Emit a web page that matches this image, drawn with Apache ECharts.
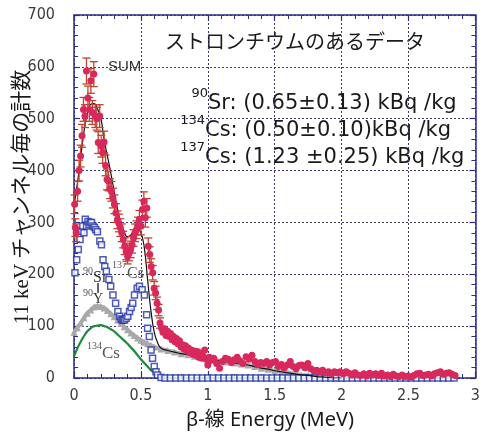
<!DOCTYPE html>
<html>
<head>
<meta charset="utf-8">
<script src="https://cdn.jsdelivr.net/npm/echarts@6/dist/echarts.min.js"></script>
<style>
html,body{margin:0;padding:0;background:#fff;}
#chart{width:483px;height:434px;}
</style>
</head>
<body>
<div id="chart"></div>
<script>
// ---- data ----
const xTickLabels = ['0', '0.5', '1', '1.5', '2', '2.5', '3'];
const yTickLabels = ['0', '100', '200', '300', '400', '500', '600', '700'];

// measured spectrum (with error bars) – low energy part
const measLowE = [0.005,0.010,0.016,0.027,0.038,0.049,0.060,0.071,0.082,0.093,0.104,0.115,0.126,0.137,0.148,0.159,0.170,0.181,0.192,0.203,0.214,0.225,0.236,0.247,0.258,0.269,0.280,0.291,0.302,0.313,0.324,0.335,0.346,0.357,0.368,0.379,0.390,0.401,0.412,0.423,0.434,0.445,0.456,0.467,0.478,0.489,0.500,0.511,0.522,0.533,0.544,0.555,0.566,0.577,0.588,0.599,0.610,0.621,0.632,0.643];
const measLowCounts = [335,290,280,360,400,428,467,518,505,592,540,518,573,512,586,505,500,454,505,447,435,455,410,383,380,365,360,347,335,318,305,299,290,280,267,254,244,235,241,248,257,270,280,286,293,306,293,325,341,309,328,254,238,215,203,173,164,144,131,106];
const measLowErr = [18,17,17,19,20,21,22,23,22,25,23,23,24,23,24,22,22,21,22,21,21,21,20,20,19,19,19,19,18,18,17,17,17,17,16,16,16,15,15,16,16,16,17,17,17,17,17,18,18,18,18,16,15,15,14,13,13,12,11,10];

// measured spectrum – high energy tail
const measHighE = [0.655,0.665,0.677,0.688,0.700,0.711,0.722,0.733,0.744,0.755,0.766,0.777,0.788,0.800,0.811,0.822,0.833,0.844,0.855,0.866,0.877,0.888,0.900,0.911,0.922,0.933,0.944,0.955,0.966,0.977,0.988,1.000,1.011,1.022,1.044,1.066,1.088,1.110,1.132,1.154,1.176,1.198,1.220,1.242,1.264,1.286,1.308,1.330,1.352,1.374,1.396,1.418,1.440,1.462,1.484,1.506,1.528,1.550,1.572,1.594,1.616,1.638,1.660,1.682,1.704,1.726,1.748,1.770,1.792,1.814,1.836,1.858,1.880,1.902,1.924,1.946,1.968,1.990,2.012,2.034,2.056,2.078,2.100,2.122,2.144,2.166,2.188,2.210,2.232,2.254,2.276,2.298,2.320,2.342,2.364,2.386,2.408,2.430,2.452,2.474,2.496,2.518,2.540,2.562,2.584,2.606,2.628,2.650,2.672,2.694,2.716,2.738,2.760,2.782,2.804,2.826,2.848];
const measHighCounts = [96,88,95,82,90,80,86,74,80,70,76,66,72,60,64,56,62,52,58,50,54,46,52,44,51,40,48,38,42,54,36,25,40,34,38,28,19,32,38,36,30,35,40,33,28,41,36,44,32,26,30,28,32,25,30,32,22,26,20,25,32,22,18,24,25,20,28,18,14,15,12,15,10,12,8,12,10,12,8,12,9,6,10,6,5,8,4,9,6,8,5,9,4,6,3,7,4,3,6,3,4,2,5,8,9,5,6,7,4,8,10,12,7,9,10,7,5];

// SUM fit
const sumE = [0,0.025,0.05,0.075,0.1,0.125,0.15,0.175,0.2,0.225,0.25,0.275,0.3,0.325,0.35,0.375,0.4,0.425,0.45,0.475,0.5,0.525,0.55,0.575,0.6,0.625,0.65,0.7,0.75,0.8,0.85,0.9,0.95,1.0,1.05,1.1,1.15,1.2,1.25,1.3,1.35,1.4,1.45,1.5,1.55,1.6,1.65,1.7,1.75,1.8,1.85,1.9,1.95,2.0];
const sumCounts = [331,375,425,476,511,528,529,519,502,459,428,395,360,326,300,282,272,276,285,287,280,252,190,130,88,68,58,53,50,47,45,42,40,37,35,33,31,29,27,25,22,19,17,14,12,10,8,6,5,3,2,1,0,0];

// 137Cs component (open squares)
const cs137E = [0.007,0.020,0.032,0.045,0.057,0.066,0.074,0.084,0.094,0.104,0.113,0.122,0.131,0.143,0.153,0.163,0.175,0.193,0.205,0.217,0.230,0.242,0.261,0.274,0.291,0.311,0.328,0.341,0.352,0.361,0.370,0.378,0.390,0.402,0.415,0.427,0.439,0.452,0.472,0.489,0.509,0.526,0.543,0.550,0.563,0.576,0.587,0.600,0.613,0.624,0.650,0.68,0.72,0.76,0.80,0.84,0.88,0.92,0.96,1.00,1.04,1.08,1.12,1.16,1.20,1.24,1.28,1.32,1.36,1.40,1.44,1.48,1.52,1.56,1.60,1.64,1.68,1.72,1.76,1.80,1.84,1.88,1.92,1.96,2.00,2.04,2.08,2.12,2.16,2.20,2.24,2.28,2.32,2.36,2.40,2.44,2.48,2.52,2.56,2.60,2.64,2.68,2.72,2.76,2.80,2.84];
const cs137Counts = [203,228,248,267,283,293,280,306,293,302,296,300,300,293,290,286,282,264,257,228,215,206,190,177,160,144,128,119,114,112,112,112,115,119,128,136,144,160,173,177,170,160,122,96,80,54,38,22,12,6,1,0,0,0,0,0,0,0,0,0,0,0,0,0,0,0,0,0,0,0,0,0,0,0,0,0,0,0,0,0,0,0,0,0,0,0,0,0,0,0,0,0,0,0,0,0,0,0,0,0,0,0,0,0,0,0];

// 90Sr + 90Y component (grey triangles)
const srE = [0,0.025,0.05,0.075,0.1,0.125,0.15,0.175,0.2,0.225,0.25,0.275,0.3,0.325,0.35,0.375,0.4,0.425,0.45,0.475,0.5,0.525,0.55,0.575,0.6,0.65,0.7,0.75,0.8,0.85,0.9,0.95,1.0,1.05,1.1,1.15,1.2,1.25,1.3,1.35,1.4,1.45,1.5,1.55,1.6,1.65,1.7,1.75,1.8,1.85,1.9,1.95,2.0];
const srCounts = [88,97,106,116,125,131,137,139,138,135,130,124,118,112,105,99,93,87,82,77,73,69,66,63,60,56,53,50,47,45,42,40,37,35,33,31,29,27,25,22,19,17,14,12,10,8,6,5,3,2,1,0,0];

// 134Cs component (green line)
const cs134E = [0,0.025,0.05,0.075,0.1,0.125,0.15,0.175,0.2,0.225,0.25,0.275,0.3,0.325,0.35,0.375,0.4,0.425,0.45,0.475,0.5,0.525,0.55,0.575,0.6,0.625,0.65,0.7,2.85];
const cs134Counts = [42,57,70,81,90,96,100,101,102,100,98,94,90,84,78,72,66,59,52,44,36,29,22,15,10,6,3,0,0];

// ---- build ----
const zip = (a, b) => a.map((v, i) => [v, b[i]]);
const measLow = zip(measLowE, measLowCounts);
const measHigh = zip(measHighE, measHighCounts);
const errData = measLowE.map((e, i) => [e, measLowCounts[i], measLowErr[i]]);

const axisColor = '#2b2d86';
const gridColor = '#3a3a6a';
const tickFont = "'Liberation Sans Narrow','DejaVu Sans Condensed','Liberation Sans',sans-serif";
const annFont = "21px 'DejaVu Sans'";
const supFont = "13px 'DejaVu Sans'";

const chart = echarts.init(document.getElementById('chart'), null, {renderer: 'canvas'});

const baseX = {
  type: 'value', min: 0, max: 3, interval: 0.5,
  axisLine: {show: true, onZero: false, lineStyle: {color: axisColor, width: 1.5}},
  axisTick: {show: true, inside: true, length: 6, lineStyle: {color: axisColor, width: 1.2}},
  minorTick: {show: true, splitNumber: 5, length: 4, lineStyle: {color: axisColor, width: 1}},
};
const baseY = {
  type: 'value', min: 0, max: 700, interval: 100,
  axisLine: {show: true, onZero: false, lineStyle: {color: axisColor, width: 1.5}},
  axisTick: {show: true, inside: true, length: 6, lineStyle: {color: axisColor, width: 1.2}},
  minorTick: {show: true, splitNumber: 5, length: 4, lineStyle: {color: axisColor, width: 1}},
};

const option = {
  animation: false,
  backgroundColor: '#fff',
  grid: {left: 74, right: 5, top: 15, bottom: 56},
  xAxis: [
    Object.assign({}, baseX, {
      position: 'bottom',
      splitLine: {show: true, lineStyle: {color: gridColor, type: [2, 2], width: 1}},
      axisLabel: {
        show: true, margin: 10, fontSize: 16, color: '#3a3a3a', fontFamily: tickFont,
        formatter: (v) => xTickLabels[Math.round(v / 0.5)]
      }
    }),
    Object.assign({}, baseX, {
      position: 'top',
      splitLine: {show: false},
      axisLabel: {show: false}
    })
  ],
  yAxis: [
    Object.assign({}, baseY, {
      position: 'left',
      splitLine: {show: true, lineStyle: {color: gridColor, type: [2, 2], width: 1}},
      axisLabel: {
        show: true, margin: 19, fontSize: 16, color: '#3a3a3a', fontFamily: tickFont,
        formatter: (v) => yTickLabels[Math.round(v / 100)]
      }
    }),
    Object.assign({}, baseY, {
      position: 'right',
      splitLine: {show: false},
      axisLabel: {show: false}
    })
  ],
  series: [
    {
      name: '134Cs', type: 'line', data: zip(cs134E, cs134Counts),
      showSymbol: false, smooth: true, z: 2,
      lineStyle: {color: '#1d8a3c', width: 2.2}
    },
    {
      name: '90Sr+90Y', type: 'line', data: zip(srE, srCounts),
      symbol: 'triangle', symbolSize: 7, smooth: true, z: 3,
      itemStyle: {color: '#a9a9a9'},
      lineStyle: {color: '#a9a9a9', width: 4}
    },
    {
      name: '137Cs', type: 'scatter', data: zip(cs137E, cs137Counts),
      symbol: 'rect', symbolSize: 6, z: 4,
      itemStyle: {color: '#ffffff', borderColor: '#2233a6', borderWidth: 1.5}
    },
    {
      name: 'SUM', type: 'line', data: zip(sumE, sumCounts),
      showSymbol: false, smooth: true, z: 5,
      lineStyle: {color: '#111111', width: 1.2}
    },
    {
      name: 'err', type: 'custom', data: errData, z: 6,
      renderItem: function (params, api) {
        const x = api.value(0), y = api.value(1), e = api.value(2);
        const top = api.coord([x, y + e]);
        const bot = api.coord([x, y - e]);
        const w = 4;
        const st = {stroke: '#c0442e', lineWidth: 1.3};
        return {
          type: 'group',
          children: [
            {type: 'line', shape: {x1: top[0], y1: top[1], x2: bot[0], y2: bot[1]}, style: st},
            {type: 'line', shape: {x1: top[0] - w, y1: top[1], x2: top[0] + w, y2: top[1]}, style: st},
            {type: 'line', shape: {x1: bot[0] - w, y1: bot[1], x2: bot[0] + w, y2: bot[1]}, style: st}
          ]
        };
      }
    },
    {
      name: 'meas', type: 'scatter', data: measLow, z: 7,
      symbol: 'circle', symbolSize: 7,
      itemStyle: {color: '#d8285c', opacity: 1}
    },
    {
      name: 'meas2', type: 'scatter', data: measHigh, z: 7,
      symbol: 'circle', symbolSize: 7,
      itemStyle: {color: '#d8285c', opacity: 1}
    }
  ],
  graphic: [
    {type: 'text', x: 165, y: 41, style: {text: 'ストロンチウムのあるデータ', font: "20px 'Noto Sans CJK JP'", fill: '#1a1a1a', verticalAlign: 'middle'}},
    // activity annotations
    {type: 'text', x: 208, y: 94, style: {text: '90', font: supFont, fill: '#1a1a1a', align: 'right', verticalAlign: 'middle'}},
    {type: 'text', x: 208, y: 104, style: {text: 'Sr: (0.65±0.13) kBq /kg', font: annFont, fill: '#1a1a1a', verticalAlign: 'middle'}},
    {type: 'text', x: 205, y: 121, style: {text: '134', font: supFont, fill: '#1a1a1a', align: 'right', verticalAlign: 'middle'}},
    {type: 'text', x: 205, y: 131, style: {text: 'Cs: (0.50±0.10)kBq /kg', font: annFont, fill: '#1a1a1a', verticalAlign: 'middle'}},
    {type: 'text', x: 205, y: 148, style: {text: '137', font: supFont, fill: '#1a1a1a', align: 'right', verticalAlign: 'middle'}},
    {type: 'text', x: 205, y: 158, style: {text: 'Cs: (1.23 ±0.25) kBq /kg', font: annFont, fill: '#1a1a1a', verticalAlign: 'middle'}},
    // curve labels
    {type: 'text', x: 108, y: 67, style: {text: 'SUM', font: "15px 'Liberation Sans'", fill: '#333', verticalAlign: 'middle'}},
    {type: 'text', x: 127, y: 265, style: {text: '137', font: "10px 'Liberation Serif'", fill: '#555', align: 'right', verticalAlign: 'middle'}},
    {type: 'text', x: 127, y: 274, style: {text: 'Cs', font: "16px 'Liberation Serif'", fill: '#555', verticalAlign: 'middle'}},
    {type: 'text', x: 93, y: 271, style: {text: '90', font: "10px 'Liberation Serif'", fill: '#555', align: 'right', verticalAlign: 'middle'}},
    {type: 'text', x: 93, y: 278, style: {text: 'Sr', font: "16px 'Liberation Serif'", fill: '#333', verticalAlign: 'middle'}},
    {type: 'line', shape: {x1: 98, y1: 283, x2: 98, y2: 293}, style: {stroke: '#333', lineWidth: 1.5}},
    {type: 'text', x: 93, y: 293, style: {text: '90', font: "10px 'Liberation Serif'", fill: '#555', align: 'right', verticalAlign: 'middle'}},
    {type: 'text', x: 93, y: 299, style: {text: 'Y', font: "14px 'Liberation Serif'", fill: '#333', verticalAlign: 'middle'}},
    {type: 'text', x: 102, y: 346, style: {text: '134', font: "10px 'Liberation Serif'", fill: '#555', align: 'right', verticalAlign: 'middle'}},
    {type: 'text', x: 102, y: 354, style: {text: 'Cs', font: "17px 'Liberation Serif'", fill: '#555', verticalAlign: 'middle'}},
    // axis titles
    {type: 'text', x: 270, y: 420, style: {text: 'β-線 Energy (MeV)', font: "20px 'Noto Sans', 'Noto Sans CJK JP'", fill: '#1a1a1a', align: 'center', verticalAlign: 'middle'}},
    {type: 'text', x: 22, y: 197, rotation: Math.PI / 2, style: {text: '11 keV チャンネル毎の計数', font: "21px 'Liberation Serif', 'Noto Sans CJK JP'", fill: '#1a1a1a', align: 'center', verticalAlign: 'middle'}}
  ]
};
chart.setOption(option);
</script>
</body>
</html>
